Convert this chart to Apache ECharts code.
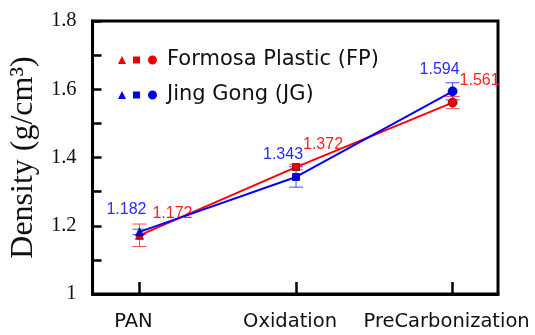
<!DOCTYPE html>
<html>
<head>
<meta charset="utf-8">
<script src="https://cdn.jsdelivr.net/npm/echarts@6/dist/echarts.min.js"></script>
<style>
  html, body { margin: 0; padding: 0; background: #fff; }
  #chart { width: 535px; height: 335px; }
</style>
</head>
<body>
<div id="chart"></div>
<script>
// categories + values
const categories = ['PAN', 'Oxidation', 'PreCarbonization'];
const symbols = ['triangle', 'rect', 'circle'];
const symbolSizes = [8, 7, 9];
const fpDensity = [1.172, 1.372, 1.561];
const fpError = [0.033, 0.008, 0.018];
const jgDensity = [1.182, 1.343, 1.594];
const jgError = [0.008, 0.03, 0.025];

// legend icon: triangle, square, circle in one path
const legendIcon = 'path://M0,8.5L4,0.5L8,8.5Z M15,1H22V8H15Z M30,4.5A4.5,4.5,0,1,1,39,4.5A4.5,4.5,0,1,1,30,4.5Z';

function points(vals) {
  return vals.map((v, i) => ({
    value: [i, v],
    symbol: symbols[i],
    symbolSize: symbolSizes[i]
  }));
}

function errData(vals, errs) {
  return vals.map((v, i) => [i, v - errs[i], v + errs[i]]);
}

function errRender(color) {
  return function (params, api) {
    const lo = api.coord([api.value(0), api.value(1)]);
    const hi = api.coord([api.value(0), api.value(2)]);
    const w = 7;
    const style = { stroke: color, lineWidth: 1 };
    return {
      type: 'group',
      children: [
        { type: 'line', shape: { x1: lo[0], y1: lo[1], x2: hi[0], y2: hi[1] }, style: style },
        { type: 'line', shape: { x1: lo[0] - w, y1: lo[1], x2: lo[0] + w, y2: lo[1] }, style: style },
        { type: 'line', shape: { x1: hi[0] - w, y1: hi[1], x2: hi[0] + w, y2: hi[1] }, style: style }
      ]
    };
  };
}

const chart = echarts.init(document.getElementById('chart'));

let option = {
  animation: false,
  grid: {
    left: 91, right: 37, top: 21, bottom: 41,
    show: true, borderColor: '#000', borderWidth: 3
  },
  legend: {
    orient: 'vertical',
    left: 113,
    top: 44,
    itemWidth: 39,
    itemHeight: 9,
    itemGap: 13,
    itemStyle: { borderWidth: 0 },
    data: [
      { name: 'Formosa Plastic (FP)', icon: legendIcon },
      { name: 'Jing Gong (JG)', icon: legendIcon }
    ],
    textStyle: {
      fontFamily: 'DejaVu Sans',
      fontSize: 21,
      lineHeight: 22,
      color: '#111',
      padding: [0, 0, 0, 5]
    }
  },
  xAxis: {
    type: 'value',
    min: -0.3,
    max: 2.29,
    splitLine: { show: false },
    axisLine: { onZero: false, lineStyle: { color: '#000', width: 3 } },
    axisTick: {
      inside: true, length: 12,
      customValues: [0, 1, 2],
      lineStyle: { color: '#000', width: 2.5 }
    },
    axisLabel: {
      customValues: [0, 1, 2],
      margin: 18,
      padding: [0, 12, 0, 0],
      fontFamily: 'DejaVu Sans',
      fontSize: 19.5,
      color: '#111',
      formatter: v => categories[Math.round(v)]
    }
  },
  yAxis: {
    type: 'value',
    min: 1,
    max: 1.8,
    interval: 0.2,
    name: 'Density (g/cm³)',
    nameLocation: 'middle',
    nameGap: 48,
    nameTextStyle: {
      fontFamily: 'Liberation Serif',
      fontSize: 32,
      color: '#111'
    },
    splitLine: { show: false },
    axisLine: { onZero: false, lineStyle: { color: '#000', width: 3 } },
    axisTick: { inside: true, length: 9, lineStyle: { color: '#000', width: 2.5 } },
    minorTick: { show: true, splitNumber: 2, length: 9, lineStyle: { color: '#000', width: 2.5 } },
    axisLabel: {
      margin: 16,
      fontFamily: 'Liberation Serif',
      fontSize: 20.5,
      color: '#111',
      formatter: v => (v === 1 ? '1' : v.toFixed(1))
    }
  },
  series: [
    {
      type: 'custom',
      name: 'fpErr',
      renderItem: errRender('#ff4a4a'),
      data: errData(fpDensity, fpError),
      encode: { x: 0, y: [1, 2] },
      z: 3
    },
    {
      type: 'custom',
      name: 'jgErr',
      renderItem: errRender('#4a4aff'),
      data: errData(jgDensity, jgError),
      encode: { x: 0, y: [1, 2] },
      z: 3
    },
    {
      name: 'Formosa Plastic (FP)',
      type: 'line',
      data: points(fpDensity),
      lineStyle: { color: '#ff0000', width: 2 },
      itemStyle: { color: '#ee0000', borderColor: '#700000', borderWidth: 0.8 },
      label: {
        show: true,
        position: 'inside',
        offset: [27, -22],
        fontFamily: 'Liberation Sans',
        fontSize: 16,
        color: '#ff2222',
        formatter: p => p.value[1].toFixed(3)
      },
      z: 4
    },
    {
      name: 'Jing Gong (JG)',
      type: 'line',
      data: points(jgDensity),
      lineStyle: { color: '#0000ff', width: 2 },
      itemStyle: { color: '#0000ee', borderColor: '#000070', borderWidth: 0.8 },
      label: {
        show: true,
        position: 'inside',
        offset: [-13, -22],
        fontFamily: 'Liberation Sans',
        fontSize: 16,
        color: '#2a2aff',
        formatter: p => p.value[1].toFixed(3)
      },
      z: 5
    }
  ]
};

// PAN label of FP sits a bit further right
option.series[2].data[0].label = { offset: [33, -22] };

chart.setOption(option);
</script>
</body>
</html>
